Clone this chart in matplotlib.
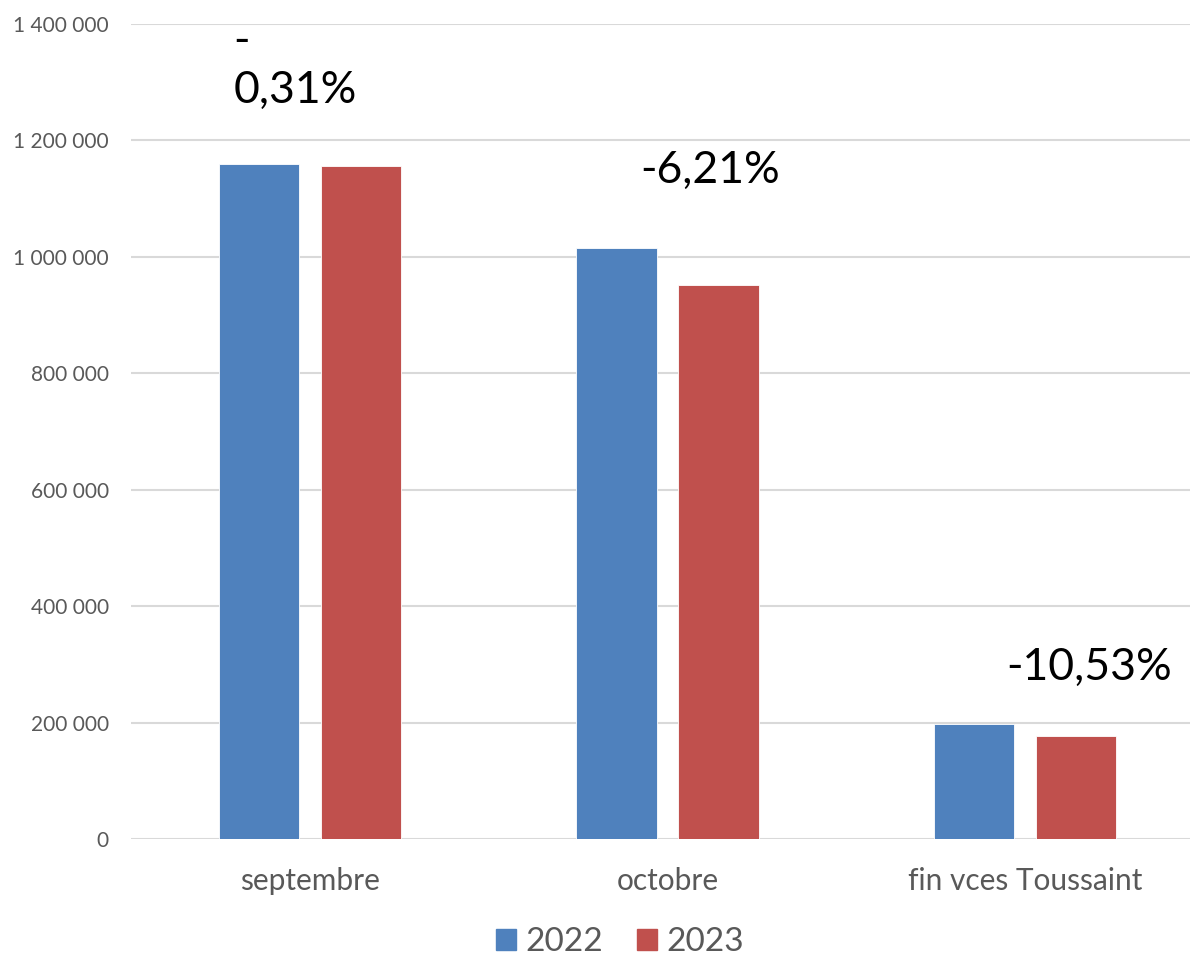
import matplotlib.pyplot as plt
import numpy as np
from matplotlib.ticker import FuncFormatter, MultipleLocator
from matplotlib.patches import Patch

plt.rcParams['font.family'] = ['Lato', 'DejaVu Sans']

categories = ["septembre", "octobre", "fin vces Toussaint"]
series_names = ["2022", "2023"]
values_2022 = [1159500, 1015200, 197500]
values_2023 = [1155900, 951700, 176800]
variations = ["-\n0,31%", "-6,21%", "-10,53%"]
colors = ["#4F81BD", "#C0504D"]

# label anchor points (category offset, value)
label_x = [-0.215, 1.12, 2.18]
label_y = [1328000, 1149000, 294000]
label_ha = ["left", "center", "center"]

fig = plt.figure(figsize=(11.9, 9.58), dpi=100)
ax = fig.add_axes([131 / 1190, 119 / 958, 1059 / 1190, 815 / 958])

x = np.arange(len(categories))
w = 0.224
off = 0.1427
ax.bar(x - off, values_2022, w, color=colors[0], edgecolor="white", linewidth=0.6, zorder=3)
ax.bar(x + off, values_2023, w, color=colors[1], edgecolor="white", linewidth=0.6, zorder=3)

for lx, ly, txt, ha in zip(label_x, label_y, variations, label_ha):
    ax.text(lx, ly, txt, ha=ha, va="center", multialignment="left",
            fontsize=32, color="black", linespacing=1.25, zorder=4)

ax.set_xlim(-0.5007, 2.4615)
ax.set_ylim(0, 1400000)
ax.yaxis.set_major_locator(MultipleLocator(200000))
ax.yaxis.set_major_formatter(FuncFormatter(lambda v, p: f"{int(v):,}".replace(",", " ")))
ax.grid(axis="y", color="#D9D9D9", linewidth=1.5, zorder=0)
ax.set_axisbelow(True)
for s in ax.spines.values():
    s.set_visible(False)

ax.set_xticks(x)
ax.set_xticklabels(categories, fontsize=21.5, color="#595959")
ax.tick_params(axis="x", length=0, pad=20)
ax.tick_params(axis="y", length=0, pad=16, labelsize=15, labelcolor="#595959")

handles = [Patch(color=c) for c in colors]
fig.legend(handles, series_names, loc="center", bbox_to_anchor=(620 / 1190, 1 - 942 / 958),
           ncol=2, frameon=False, fontsize=24, labelcolor="#595959",
           handlelength=0.6, handleheight=0.6, handletextpad=0.3, columnspacing=1.0,
           borderaxespad=0, borderpad=0)

fig.savefig("out.png", dpi=100)
